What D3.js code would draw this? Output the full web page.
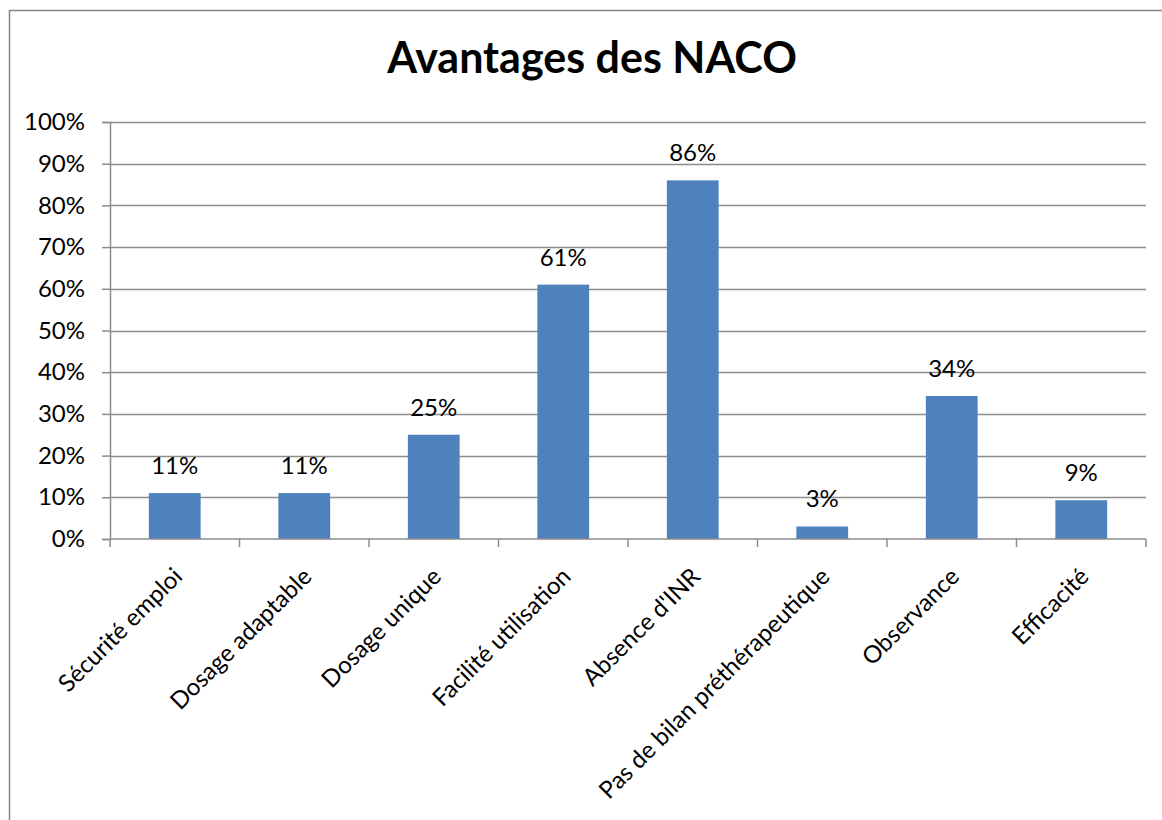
<!DOCTYPE html>
<html>
<head>
<meta charset="utf-8">
<script src="https://cdn.jsdelivr.net/npm/d3@7"></script>
<style>
  body { margin: 0; background: #fff; }
  svg { display: block; }
</style>
</head>
<body>
<div id="chart"></div>
<script>
// data
const categories = [
    "Sécurité emploi",
    "Dosage adaptable",
    "Dosage unique",
    "Facilité utilisation",
    "Absence d'INR",
    "Pas de bilan préthérapeutique",
    "Observance",
    "Efficacité",
]
const values = [0.11, 0.11, 0.25, 0.61, 0.86, 0.03, 0.343, 0.093]
const yTicks = [0, 0.1, 0.2, 0.3, 0.4, 0.5, 0.6, 0.7, 0.8, 0.9, 1]
const title = "Avantages des NACO"

const font = "Lato, 'Open Sans', sans-serif"

const dimensions = {
    width: 1162,
    height: 820,
    margin: { top: 122, right: 16, bottom: 281, left: 110 },
}
dimensions.boundedWidth = dimensions.width - dimensions.margin.left - dimensions.margin.right
dimensions.boundedHeight = dimensions.height - dimensions.margin.top - dimensions.margin.bottom

const wrapper = d3.select("#chart")
    .append("svg")
    .attr("width", dimensions.width)
    .attr("height", dimensions.height)

// outer frame
wrapper.append("rect")
    .attr("x", 9.5)
    .attr("y", 10.5)
    .attr("width", 1170)
    .attr("height", 830)
    .attr("fill", "none")
    .attr("stroke", "#878787")
    .attr("stroke-width", 1.5)

wrapper.append("text")
    .attr("x", 592)
    .attr("y", 73)
    .attr("text-anchor", "middle")
    .style("font-family", font)
    .style("font-weight", "bold")
    .style("font-size", "43px")
    .text(title)

const bounds = wrapper.append("g")
    .attr("transform", `translate(${dimensions.margin.left},${dimensions.margin.top})`)

const xScale = d3.scaleBand()
    .domain(categories)
    .range([0, dimensions.boundedWidth])
    .paddingInner(0.6)
    .paddingOuter(0.3)

const yScale = d3.scaleLinear()
    .domain([0, 1])
    .range([dimensions.boundedHeight, 0])

// gridlines
bounds.append("g")
    .selectAll("line")
    .data(yTicks.slice(1))
    .join("line")
    .attr("x1", 0)
    .attr("x2", dimensions.boundedWidth)
    .attr("y1", d => Math.round(yScale(d)) + 0.5)
    .attr("y2", d => Math.round(yScale(d)) + 0.5)
    .attr("stroke", "#8c8c8c")
    .attr("stroke-width", 1.3)

// bars
bounds.append("g")
    .selectAll("rect")
    .data(values)
    .join("rect")
    .attr("x", (d, i) => xScale(categories[i]))
    .attr("y", d => yScale(d))
    .attr("width", xScale.bandwidth())
    .attr("height", d => dimensions.boundedHeight - yScale(d))
    .attr("fill", "#4f81bd")

// data labels
bounds.append("g")
    .selectAll("text")
    .data(values)
    .join("text")
    .attr("x", (d, i) => xScale(categories[i]) + xScale.bandwidth() / 2)
    .attr("y", d => yScale(d) - 19)
    .attr("text-anchor", "middle")
    .style("font-family", font)
    .style("font-size", "24px")
    .text(d => Math.round(d * 100) + "%")

// y axis
const yAxisGenerator = d3.axisLeft(yScale)
    .tickValues(yTicks)
    .tickFormat(d3.format(".0%"))
    .tickSize(8)
    .tickPadding(17)

const yAxis = bounds.append("g")
    .call(yAxisGenerator)
yAxis.select(".domain").attr("stroke", "#8c8c8c").attr("stroke-width", 1.5)
yAxis.selectAll(".tick line").attr("stroke", "#8c8c8c").attr("stroke-width", 1.5)
yAxis.selectAll(".tick text")
    .style("font-family", font)
    .style("font-size", "24px")
    .attr("fill", "#000")

// x axis, ticks on category boundaries
const xBoundaries = d3.range(categories.length + 1).map(i => i * dimensions.boundedWidth / categories.length)

const xAxis = bounds.append("g")
    .attr("transform", `translate(0,${dimensions.boundedHeight})`)
xAxis.append("line")
    .attr("x1", 0)
    .attr("x2", dimensions.boundedWidth)
    .attr("stroke", "#8c8c8c")
    .attr("stroke-width", 1.5)
xAxis.selectAll(".xtick")
    .data(xBoundaries)
    .join("line")
    .attr("class", "xtick")
    .attr("x1", d => d)
    .attr("x2", d => d)
    .attr("y1", 0)
    .attr("y2", 8)
    .attr("stroke", "#8c8c8c")
    .attr("stroke-width", 1.5)

xAxis.selectAll(".xlabel")
    .data(categories)
    .join("text")
    .attr("class", "xlabel")
    .attr("text-anchor", "end")
    .attr("transform", d => `translate(${xScale(d) + xScale.bandwidth() / 2 + 9},${39}) rotate(-45)`)
    .style("font-family", font)
    .style("font-size", "24px")
    .text(d => d)
</script>
</body>
</html>
